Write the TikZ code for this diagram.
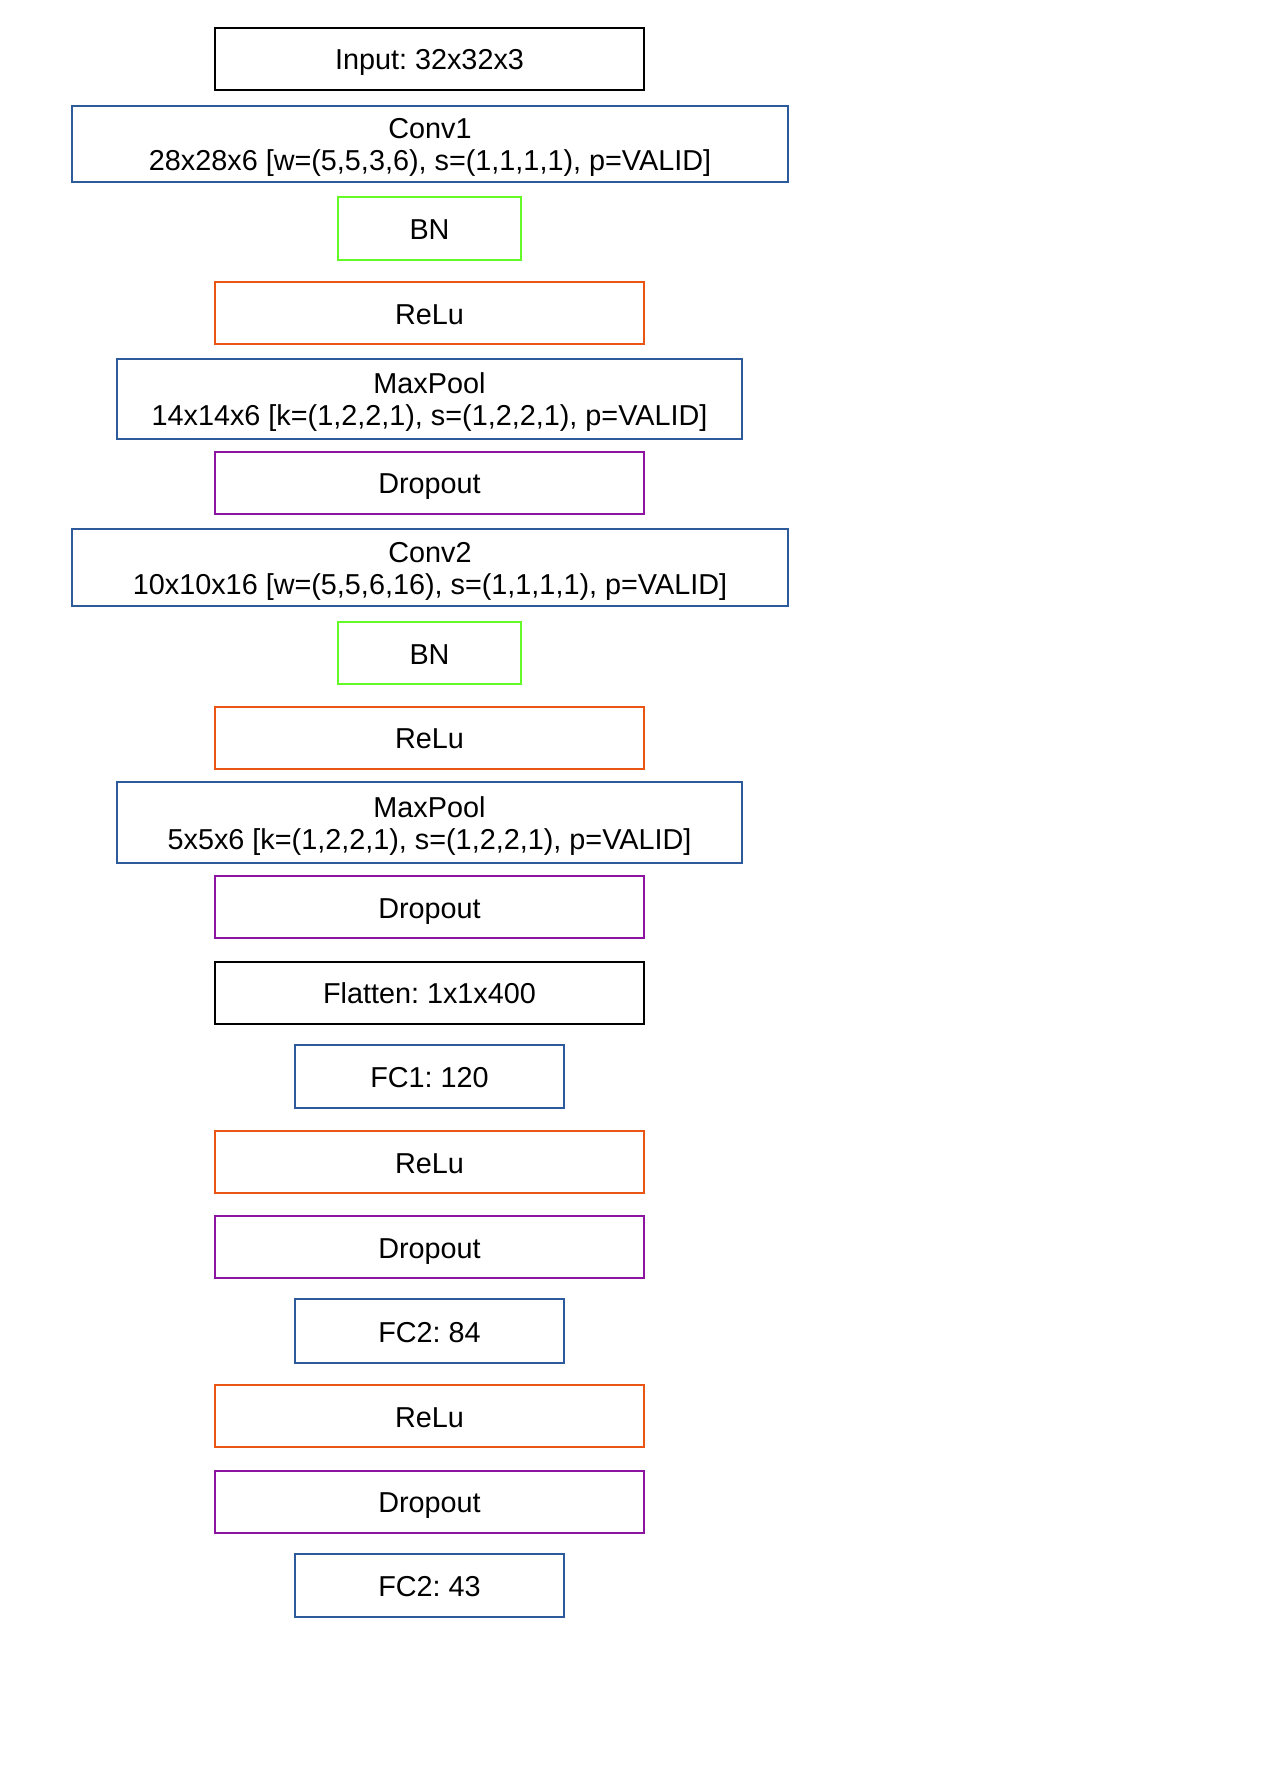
\documentclass[tikz,border=0pt]{standalone}
\usepackage{fontspec}
\setmainfont{Liberation Sans}
\frenchspacing
\definecolor{cblack}{RGB}{0,0,0}
\definecolor{cblue}{RGB}{45,90,155}
\definecolor{cgreen}{RGB}{100,250,40}
\definecolor{corange}{RGB}{235,85,20}
\definecolor{cpurple}{RGB}{140,20,160}
\newcommand\twolines[2]{\raisebox{-2.2pt}[\height][\depth]{\begin{tabular}{@{}c@{}}#1\\#2\end{tabular}}}
\tikzset{
  layer/.style={draw=#1, line width=1pt, rectangle, inner sep=0pt, align=center,
    font=\fontsize{14.4}{16}\selectfont, text=black},
  oneline/.style={text height=11pt, text depth=0pt},
  wide/.style={oneline, minimum width=214.5pt, minimum height=31pt},
}
\begin{document}
\begin{tikzpicture}[x=0.5pt,y=-0.5pt]
\useasboundingbox (0,0) rectangle (1263,1786);
\begin{scope}[shift={(1,1)}]
\node[layer=cblack, wide] (input) at (428.5,58) {Input: 32x32x3};
\node[layer=cblue, minimum width=358pt, minimum height=38pt] (conv1) at (429,143) {\twolines{Conv1}{28x28x6 [w=(5,5,3,6), s=(1,1,1,1), p=VALID]}};
\node[layer=cgreen, oneline, minimum width=91.5pt, minimum height=31.5pt] (bn1) at (428.5,227.5) {BN};
\node[layer=corange, wide] (relu1) at (428.5,312.5) {ReLu};
\node[layer=cblue, minimum width=312.5pt, minimum height=40pt] (mp1) at (428.5,398) {\twolines{MaxPool}{14x14x6 [k=(1,2,2,1), s=(1,2,2,1), p=VALID]}};
\node[layer=cpurple, wide] (do1) at (428.5,482) {Dropout};
\node[layer=cblue, minimum width=358pt, minimum height=38.5pt] (conv2) at (429,566.5) {\twolines{Conv2}{10x10x16 [w=(5,5,6,16), s=(1,1,1,1), p=VALID]}};
\node[layer=cgreen, oneline, minimum width=91.5pt, minimum height=31pt] (bn2) at (428.5,652) {BN};
\node[layer=corange, wide] (relu2) at (428.5,736.5) {ReLu};
\node[layer=cblue, minimum width=312.5pt, minimum height=40.5pt] (mp2) at (428.5,821.5) {\twolines{MaxPool}{5x5x6 [k=(1,2,2,1), s=(1,2,2,1), p=VALID]}};
\node[layer=cpurple, wide] (do2) at (428.5,906) {Dropout};
\node[layer=cblack, wide] (flat) at (428.5,991.5) {Flatten: 1x1x400};
\node[layer=cblue, oneline, minimum width=134.5pt, minimum height=31.5pt] (fc1) at (428.5,1075.5) {FC1: 120};
\node[layer=corange, wide] (relu3) at (428.5,1161) {ReLu};
\node[layer=cpurple, wide] (do3) at (428.5,1246) {Dropout};
\node[layer=cblue, oneline, minimum width=134.5pt, minimum height=32pt] (fc2) at (428.5,1330) {FC2: 84};
\node[layer=corange, wide] (relu4) at (428.5,1415) {ReLu};
\node[layer=cpurple, wide] (do4) at (428.5,1500.5) {Dropout};
\node[layer=cblue, oneline, minimum width=134.5pt, minimum height=31.5pt] (fc3) at (428.5,1584.5) {FC2: 43};
\end{scope}
\end{tikzpicture}
\end{document}
